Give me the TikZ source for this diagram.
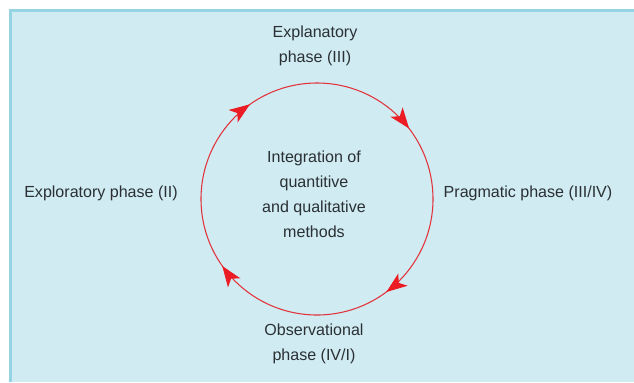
\documentclass[tikz,border=0pt]{standalone}
\usepackage{fontspec}
\setmainfont{Liberation Sans}
\usetikzlibrary{arrows.meta,decorations.markings}

\definecolor{panelfill}{HTML}{D0EBF2}
\definecolor{panelline}{HTML}{94D4E4}
\definecolor{cyclered}{HTML}{E2323A}
\definecolor{tipred}{HTML}{EC1C24}
\definecolor{textgray}{HTML}{2A3033}

\begin{document}
\begin{tikzpicture}[
  x=0.03cm, y=-0.03cm,
  phase/.style={align=center, inner sep=0pt, text=textgray,
                font=\fontsize{13.7}{21.3}\selectfont},
  cyclearrow/.style={draw=cyclered, line width=0.9pt, postaction={decorate},
                decoration={markings,
                  mark=at position 0.152 with {\arrow{cyc}},
                  mark=at position 0.396 with {\arrow{cyc}},
                  mark=at position 0.648 with {\arrow{cyc}},
                  mark=at position 0.902 with {\arrow{cyc}}}},
  cyc/.tip={Stealth[length=0.62cm, width=0.46cm, inset=0.16cm, color=tipred]},
]
  % Panel
  \useasboundingbox (0,0) rectangle (634,382);
  \fill[panelfill] (10,11) rectangle (634,382);
  \draw[panelline, line width=0.1cm] (10.5,382) -- (10.5,10.5) -- (634,10.5);

  % Cycle (clockwise, starting on the left)
  \coordinate (hub) at (317,199);
  \draw[cyclearrow] (hub) ++(180:3.48cm) arc[start angle=180, end angle=-180, radius=3.48cm];

  % Phases
  \node[phase] (explan) at (315,46) {Explanatory\\phase (III)};
  \node[phase] (pragm) at (528,193) {Pragmatic phase (III/IV)};
  \node[phase] (observ) at (314,344) {Observational\\phase (IV/I)};
  \node[phase] (explor) at (101,193) {Exploratory phase (II)};

  % Centre
  \node[phase] (integ) at (314,194) {Integration of\\quantitive\\and qualitative\\methods};
\end{tikzpicture}
\end{document}
